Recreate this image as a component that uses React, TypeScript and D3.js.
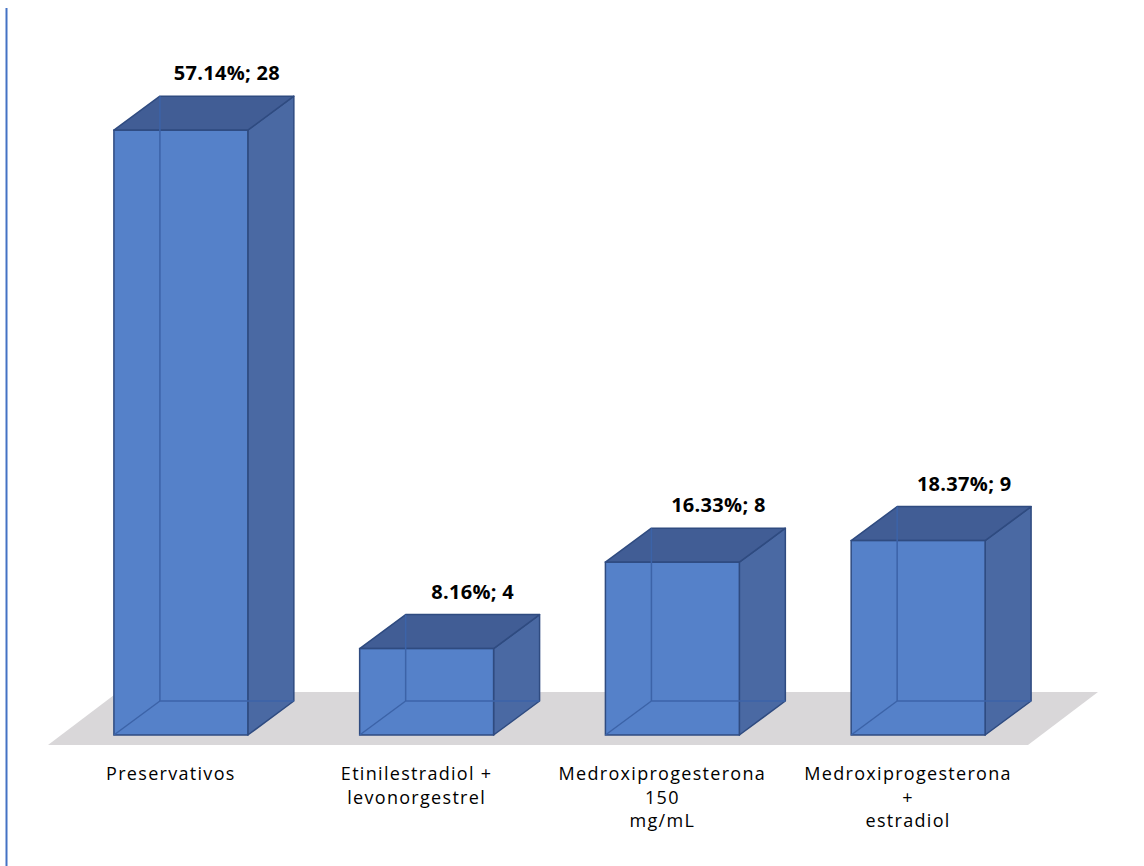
import React from 'react';
import * as d3 from 'd3';

// chart data
const categories = ['Preservativos', 'Etinilestradiol + levonorgestrel', 'Medroxiprogesterona 150 mg/mL', 'Medroxiprogesterona + estradiol'];
const categoryLines = [
  ['Preservativos'],
  ['Etinilestradiol +', 'levonorgestrel'],
  ['Medroxiprogesterona', '150', 'mg/mL'],
  ['Medroxiprogesterona', '+', 'estradiol'],
];
const counts = [28, 4, 8, 9];
const percents = ['57.14%', '8.16%', '16.33%', '18.37%'];

const W = 1144;
const H = 866;
const baseY = 735;
const depthX = 46;
const depthY = -34;

const App: React.FC = () => {
  const x = d3.scaleBand<string>()
    .domain(categories)
    .range([58, 1041])
    .paddingInner(0.455)
    .paddingOuter(0.2275);

  const y = d3.scaleLinear()
    .domain([0, 30])
    .range([baseY, baseY - 30 * 21.6]);

  const bw = x.bandwidth();
  const [r0, r1] = x.range();

  // floor plane
  const floorFront = 745;
  const floorBack = 692;
  const floorShift = 70;
  const floor = [
    [r0 - 10, floorFront],
    [r1 - 13, floorFront],
    [r1 - 13 + floorShift, floorBack],
    [r0 - 10 + floorShift, floorBack],
  ];

  const line = d3.line();

  return (
    <svg width={W} height={H} style={{ position: 'absolute', left: 0, top: 0, background: '#fff' }}>
      <line x1={6.5} x2={6.5} y1={8} y2={H} stroke="#4472C4" strokeWidth={2} />
      <path d={line(floor as [number, number][]) + 'Z'} fill="#D9D7D9" />

      {categories.map((c, i) => {
        const x0 = x(c)!;
        const x1 = x0 + bw;
        const yt = y(counts[i]);
        const yb = y(0);
        const top: [number, number][] = [[x0, yt], [x1, yt], [x1 + depthX, yt + depthY], [x0 + depthX, yt + depthY]];
        const side: [number, number][] = [[x1, yt], [x1 + depthX, yt + depthY], [x1 + depthX, yb + depthY], [x1, yb]];
        const hidden: [number, number][][] = [
          [[x0 + depthX, yt + depthY], [x0 + depthX, yb + depthY]],
          [[x0 + depthX, yb + depthY], [x1 + depthX, yb + depthY]],
          [[x0, yb], [x0 + depthX, yb + depthY]],
        ];
        const cx = x0 + bw / 2 - 10;
        return (
          <g key={c}>
            <path d={line(side) + 'Z'} fill="#4A69A3" stroke="#2F4B80" strokeWidth={1.5} strokeLinejoin="round" />
            <path d={line(top) + 'Z'} fill="#415D95" stroke="#2F4B80" strokeWidth={1.5} strokeLinejoin="round" />
            <rect x={x0} y={yt} width={bw} height={yb - yt} fill="#5581C9" stroke="#2F4B80" strokeWidth={1.5} />
            {hidden.map((h, k) => (
              <path key={k} d={line(h)!} stroke="#3C63A8" strokeWidth={1.5} fill="none" />
            ))}
            <text
              x={x0 + bw / 2 + depthX}
              y={yt + depthY - 16}
              textAnchor="middle"
              fontFamily="'Open Sans', sans-serif"
              fontWeight="bold"
              fontSize={20}
              letterSpacing={0.3}
              fill="#000"
            >
              {`${percents[i]}; ${counts[i]}`}
            </text>
            <text
              x={cx}
              y={780}
              textAnchor="middle"
              fontFamily="'Open Sans', sans-serif"
              fontSize={18}
              letterSpacing={1.3}
              fill="#000"
            >
              {categoryLines[i].map((l, k) => (
                <tspan key={k} x={cx} dy={k === 0 ? 0 : 23.5}>{l}</tspan>
              ))}
            </text>
          </g>
        );
      })}
    </svg>
  );
};

export default App;
